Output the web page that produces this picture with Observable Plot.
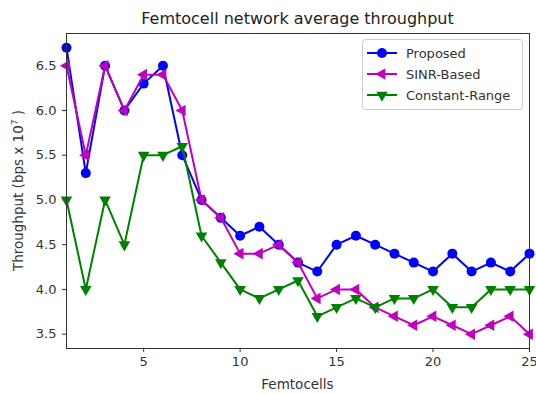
<!DOCTYPE html>
<html>
<head>
<meta charset="utf-8">
<script src="https://cdn.jsdelivr.net/npm/d3@7"></script>
<script src="https://cdn.jsdelivr.net/npm/@observablehq/plot@0.6"></script>
<style>
  html, body { margin: 0; padding: 0; background: #fff; }
  svg { display: block; }
</style>
</head>
<body>
<div id="chart"></div>
<script>
const femtocells = [1,2,3,4,5,6,7,8,9,10,11,12,13,14,15,16,17,18,19,20,21,22,23,24,25];
const proposed = [6.7,5.3,6.5,6.0,6.3,6.5,5.5,5.0,4.8,4.6,4.7,4.5,4.3,4.2,4.5,4.6,4.5,4.4,4.3,4.2,4.4,4.2,4.3,4.2,4.4];
const sinrBased = [6.5,5.5,6.5,6.0,6.4,6.4,6.0,5.0,4.8,4.4,4.4,4.5,4.3,3.9,4.0,4.0,3.8,3.7,3.6,3.7,3.6,3.5,3.6,3.7,3.5];
const constantRange = [5.0,4.0,5.0,4.5,5.5,5.5,5.6,4.6,4.3,4.0,3.9,4.0,4.1,3.7,3.8,3.9,3.8,3.9,3.9,4.0,3.8,3.8,4.0,4.0,4.0];
const xTicks = [5,10,15,20,25];
const yTicks = [3.5,4.0,4.5,5.0,5.5,6.0,6.5];
const seriesNames = ["Proposed","SINR-Based","Constant-Range"];
const seriesColors = ["#0000ff","#bf00bf","#008000"];

const series = [proposed, sinrBased, constantRange].map((vals, i) =>
  femtocells.map((f, j) => ({f, v: vals[j], name: seriesNames[i]})));

const symbols = [
  {symbol: "circle", rotate: 0, r: 5},
  {symbol: "triangle", rotate: -90, r: 4.3},
  {symbol: "triangle", rotate: 180, r: 4.3}
];

const marks = [];
series.forEach((data, i) => {
  marks.push(Plot.line(data, {x: "f", y: "v", stroke: seriesColors[i], strokeWidth: 2}));
  marks.push(Plot.dot(data, {x: "f", y: "v", fill: seriesColors[i], stroke: "none", r: symbols[i].r,
    symbol: symbols[i].symbol, rotate: symbols[i].rotate}));
});

const W = 536, H = 394, mL = 66, mR = 7, mT = 33, mB = 46;
const chart = Plot.plot({
  width: W, height: H,
  marginLeft: mL, marginRight: mR, marginTop: mT, marginBottom: mB,
  style: {fontFamily: "'DejaVu Sans', sans-serif", fontSize: "13px", color: "#333", background: "#fff"},
  x: {domain: [1, 25]},
  y: {domain: [3.34, 6.86]},
  marks: [
    Plot.axisX({ticks: xTicks, tickSize: 4, tickPadding: 4, label: null, tickFormat: d => String(d)}),
    Plot.axisY({ticks: yTicks, tickSize: 4, tickPadding: 6, label: null, tickFormat: d3.format(".1f")}),
    ...marks,
    Plot.frame({stroke: "#333", strokeWidth: 1})
  ]
});

const svg = d3.select(chart);
const cx = mL + (W - mL - mR) / 2;
svg.append("text").attr("x", cx).attr("y", 24).attr("text-anchor", "middle")
  .attr("font-size", 16).attr("fill", "#222").text("Femtocell network average throughput");
svg.append("text").attr("x", cx).attr("y", 389).attr("text-anchor", "middle")
  .attr("font-size", 13.5).attr("fill", "#333").text("Femtocells");
const yl = svg.append("text").attr("transform", `translate(23,${mT + (H - mT - mB) / 2}) rotate(-90)`)
  .attr("text-anchor", "middle").attr("font-size", 13.5).attr("fill", "#333");
yl.append("tspan").text("Throughput (bps x 10");
yl.append("tspan").attr("dy", -5).attr("font-size", 9).text("7");
yl.append("tspan").attr("dy", 5).text(" )");

// legend
const lg = svg.append("g").attr("text-anchor", "start");
lg.append("rect").attr("x", 362.5).attr("y", 39.5).attr("width", 160).attr("height", 70)
  .attr("rx", 3).attr("fill", "#fff").attr("fill-opacity", 0.8).attr("stroke", "#ccc");
const legendSym = [d3.symbolCircle, d3.symbolTriangle, d3.symbolTriangle];
const legendRot = [0, -90, 180];
seriesNames.forEach((n, i) => {
  const y = 53 + i * 21;
  lg.append("line").attr("x1", 367).attr("x2", 397).attr("y1", y).attr("y2", y)
    .attr("stroke", seriesColors[i]).attr("stroke-width", 2);
  lg.append("path").attr("d", d3.symbol(legendSym[i], Math.PI * symbols[i].r * symbols[i].r)())
    .attr("transform", `translate(382,${y}) rotate(${legendRot[i]})`).attr("fill", seriesColors[i]);
  lg.append("text").attr("x", 406).attr("y", y).attr("dy", "0.35em").attr("font-size", 13)
    .attr("text-anchor", "start").attr("fill", "#333").text(n);
});

document.getElementById("chart").appendChild(chart);
</script>
</body>
</html>
